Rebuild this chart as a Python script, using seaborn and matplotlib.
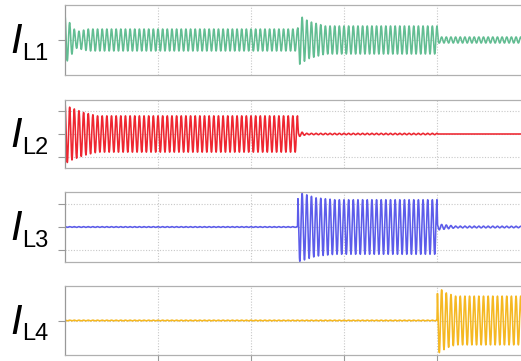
import matplotlib
matplotlib.use("Agg")
import matplotlib.pyplot as plt
import numpy as np
import pandas as pd
import seaborn as sns

# envelope knots (time, peak amplitude); carrier is a 200 Hz wave
FREQ = 200
T_END = 0.5

l1_t = [0.0, 0.004, 0.012, 0.025, 0.25, 0.252, 0.262, 0.28, 0.4, 0.402, 0.5]
l1_a = [10.5, 8.0, 3.5, 4.7, 4.7, 10.5, 8.0, 6.0, 6.0, 1.3, 1.3]
l2_t = [0.0, 0.004, 0.02, 0.035, 0.25, 0.251, 0.26, 0.4, 0.401, 0.5]
l2_a = [13.5, 12.0, 9.5, 8.0, 8.0, 1.2, 0.3, 0.3, 0.0, 0.0]
l3_t = [0.0, 0.25, 0.2505, 0.27, 0.29, 0.4, 0.4005, 0.42, 0.5]
l3_a = [0.15, 0.15, 15.0, 12.5, 11.7, 11.7, 1.3, 0.4, 0.3]
l4_t = [0.0, 0.4, 0.4005, 0.41, 0.42, 0.5]
l4_a = [0.15, 0.15, 14.5, 12.0, 10.6, 10.6]

names = ["L1", "L2", "L3", "L4"]
colors = ["#62bd92", "#ee2630", "#5c5cea", "#f5b822"]
y_ticks = [[0], [-10, 0, 10], [-10, 0, 10], [0]]
x_grid = [0.1, 0.2, 0.3, 0.4]

# axes boxes in pixels (top, bottom) of the 521x361 canvas
W, H = 521, 361
boxes = [(5, 75), (100, 168), (192, 262), (286, 355)]
LEFT, RIGHT = 65, 530

t = np.linspace(0, T_END, 12001)
frames = []
for name, kt, ka in zip(names, [l1_t, l2_t, l3_t, l4_t], [l1_a, l2_a, l3_a, l4_a]):
    amp = np.interp(t, kt, ka)
    frames.append(pd.DataFrame({"t": t, "i": amp * np.cos(2 * np.pi * FREQ * t), "sig": name}))

sns.set_theme(style="ticks")
plt.rcParams["font.family"] = ["Liberation Sans", "DejaVu Sans"]

fig = plt.figure(figsize=(W / 100, H / 100), dpi=100)
for k, (name, frame) in enumerate(zip(names, frames)):
    top, bot = boxes[k]
    ax = fig.add_axes([LEFT / W, 1 - bot / H, (RIGHT - LEFT) / W, (bot - top) / H])
    sns.lineplot(data=frame, x="t", y="i", color=colors[k], linewidth=1.15,
                 estimator=None, sort=False, ax=ax)
    ax.set_xlim(0, T_END)
    ax.set_ylim(-15, 15)
    ax.set_yticks(y_ticks[k])
    ax.set_xticks(x_grid if k == 3 else [])
    ax.set_yticklabels([])
    ax.set_xticklabels([])
    ax.set_xlabel("")
    ax.set_ylabel("")
    for x in x_grid:
        ax.axvline(x, color="#c8c8c8", linestyle=(0, (1, 1.5)), linewidth=0.8, zorder=0)
    for y in y_ticks[k]:
        ax.axhline(y, color="#c8c8c8", linestyle=(0, (1, 1.5)), linewidth=0.8, zorder=0)
    for side in ["left", "bottom", "top"]:
        ax.spines[side].set_visible(True)
        ax.spines[side].set_color("#b0b0b0")
        ax.spines[side].set_linewidth(0.9)
    ax.spines["right"].set_visible(False)
    ax.spines["left"].set_color("#999999")
    ax.tick_params(axis="both", direction="out", length=5, width=0.8, color="#999999")

    centre = (top + bot) / 2
    fig.text(10 / W, 1 - (centre + 13) / H, "I", fontsize=30, fontstyle="italic",
             va="baseline", ha="left", color="black")
    fig.text(22 / W, 1 - (centre + 20) / H, name, fontsize=17,
             va="baseline", ha="left", color="black")

fig.savefig("out.png", dpi=100)
